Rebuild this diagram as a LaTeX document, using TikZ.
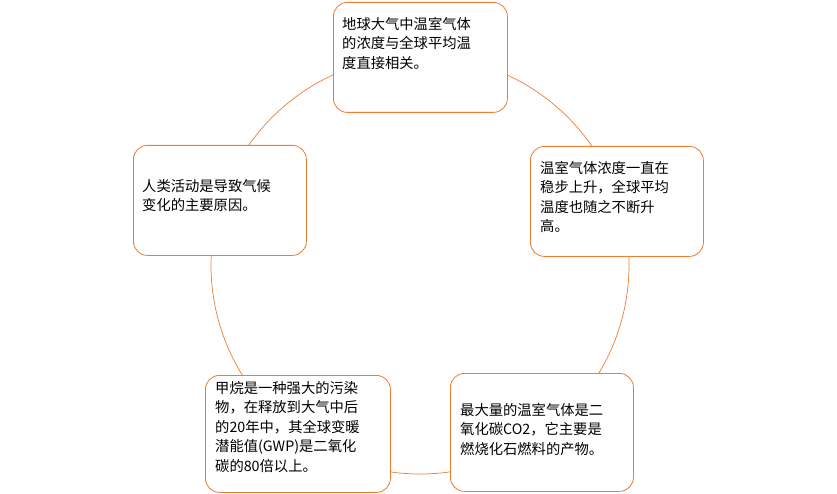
\documentclass[tikz,border=0pt]{standalone}
\usepackage{fontspec}
\setmainfont{Noto Sans CJK SC}
\begin{document}
\begin{tikzpicture}[x=1pt,y=-1pt,
  box/.style={draw=orng, fill=white, rounded corners=14pt, line width=0.8pt, inner sep=0pt, anchor=north west},
  txt/.style={anchor=north west, align=left, font=\fontsize{14.3}{19.5}\selectfont, inner sep=0pt},
]
\definecolor{orng}{RGB}{237,125,49}
\useasboundingbox (0,0) rectangle (837,494);
\draw[orng, line width=0.7pt] (420,265) circle (209);
\node[box, minimum width=174pt, minimum height=110pt] (a) at (333,2) {};
\node[txt] (at) at (342,17) {地球大气中温室气体\\的浓度与全球平均温\\度直接相关。};
\node[box, minimum width=173pt, minimum height=110pt] (b) at (530,146) {};
\node[txt] (bt) at (540,161) {温室气体浓度一直在\\稳步上升，全球平均\\温度也随之不断升\\高。};
\node[box, minimum width=183pt, minimum height=118pt] (c) at (450,373) {};
\node[txt] (ct) at (460,403) {最大量的温室气体是二\\氧化碳CO2，它主要是\\燃烧化石燃料的产物。};
\node[box, minimum width=185pt, minimum height=117pt] (d) at (205,375) {};
\node[txt] (dt) at (215,381) {甲烷是一种强大的污染\\物，在释放到大气中后\\的20年中，其全球变暖\\潜能值(GWP)是二氧化\\碳的80倍以上。};
\node[box, minimum width=173pt, minimum height=110pt] (e) at (133,145) {};
\node[txt] (et) at (142,179) {人类活动是导致气候\\变化的主要原因。};
\end{tikzpicture}
\end{document}
